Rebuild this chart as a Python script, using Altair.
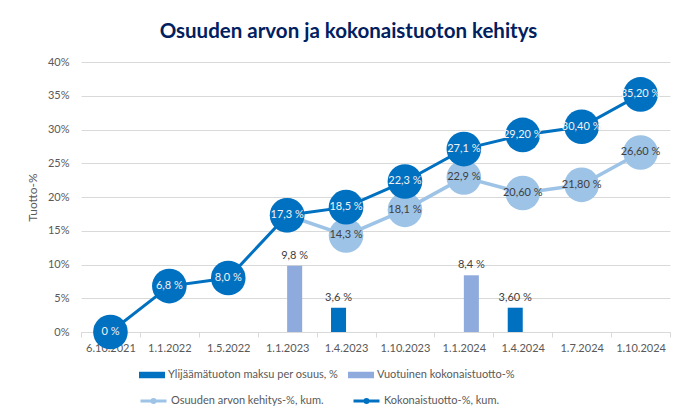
import altair as alt
import pandas as pd

categories = ["6.10.2021", "1.1.2022", "1.5.2022", "1.1.2023", "1.4.2023",
              "1.10.2023", "1.1.2024", "1.4.2024", "1.7.2024", "1.10.2024"]

total_return = [0, 6.8, 8.0, 17.3, 18.5, 22.3, 27.1, 29.2, 30.4, 35.2]
total_labels = ["0 %", "6,8 %", "8,0 %", "17,3 %", "18,5 %", "22,3 %",
                "27,1 %", "29,20 %", "30,40 %", "35,20 %"]

value_dates = ["1.1.2023", "1.4.2023", "1.10.2023", "1.1.2024",
               "1.4.2024", "1.7.2024", "1.10.2024"]
value_dev = [17.3, 14.3, 18.1, 22.9, 20.6, 21.8, 26.6]
value_labels = ["", "14,3 %", "18,1 %", "22,9 %", "20,60 %", "21,80 %", "26,60 %"]

surplus_dates = ["1.4.2023", "1.4.2024"]
surplus_vals = [3.6, 3.6]
surplus_labels = ["3,6 %", "3,60 %"]

annual_dates = ["1.1.2023", "1.1.2024"]
annual_vals = [9.8, 8.4]
annual_labels = ["9,8 %", "8,4 %"]

S_BAR1 = "Ylijäämätuoton maksu per osuus, %"
S_BAR2 = "Vuotuinen kokonaistuotto-%"
S_LINE1 = "Osuuden arvon kehitys-%, kum."
S_LINE2 = "Kokonaistuotto-%, kum."

DARK = "#0070C0"
LIGHT_BAR = "#8FAADC"
LIGHT_CIRC = "#9DC3E6"
GREY = "#595959"
FONT = "Lato"

df_bars = pd.DataFrame({
    "date": surplus_dates + annual_dates,
    "series": [S_BAR1] * len(surplus_dates) + [S_BAR2] * len(annual_dates),
    "value": surplus_vals + annual_vals,
    "label": surplus_labels + annual_labels,
})
df_total = pd.DataFrame({"date": categories, "value": total_return,
                         "label": total_labels, "series": S_LINE2})
df_value = pd.DataFrame({"date": value_dates, "value": value_dev,
                         "label": value_labels, "series": S_LINE1})

x = alt.X("date:N", sort=categories,
          scale=alt.Scale(domain=categories, paddingInner=0, paddingOuter=0),
          axis=alt.Axis(title=None, labelAngle=0, tickBand="extent",
                        labelFont=FONT, labelFontSize=11, labelColor=GREY,
                        tickColor="#D9D9D9", tickSize=5, labelPadding=5,
                        domainColor="#D9D9D9", grid=False, zindex=0))
y = alt.Y("value:Q", scale=alt.Scale(domain=[0, 40], nice=False),
          axis=alt.Axis(values=list(range(0, 41, 5)),
                        labelExpr="datum.value + '%'",
                        title="Tuotto-%", titleFont=FONT, titleFontSize=12,
                        titleFontWeight="normal", titleColor=GREY,
                        titlePadding=8,
                        labelFont=FONT, labelFontSize=11, labelColor=GREY,
                        labelPadding=12, ticks=False, domain=False,
                        gridColor="#D9D9D9", zindex=0))

bar_offset = alt.XOffset("series:N", scale=alt.Scale(domain=[S_BAR1, S_BAR2],
                                                     paddingInner=0, paddingOuter=0.96))

bars = alt.Chart(df_bars).mark_bar().encode(
    x=x, y=y, xOffset=bar_offset,
    fill=alt.Fill("series:N",
                  scale=alt.Scale(domain=[S_BAR1, S_BAR2], range=[DARK, LIGHT_BAR]),
                  legend=alt.Legend(title=None, orient="none", direction="horizontal",
                                    legendX=58, legendY=300, padding=0,
                                    symbolType="M-1,-0.25H1V0.25H-1Z", symbolSize=676,
                                    symbolStrokeWidth=0, labelLimit=400,
                                    labelFont=FONT, labelFontSize=11, labelColor=GREY,
                                    labelOffset=3, columnPadding=9)),
)
bar_text = alt.Chart(df_bars).mark_text(dy=-10, font=FONT, fontSize=11,
                                        color="#404040").encode(
    x=x, y=y, xOffset=bar_offset, text="label:N")

line_stroke = alt.Stroke("series:N",
                         scale=alt.Scale(domain=[S_LINE1, S_LINE2], range=[LIGHT_CIRC, DARK]),
                         legend=alt.Legend(title=None, orient="none", direction="horizontal",
                                           legendX=58, legendY=324, padding=0,
                                           symbolType="M-1,0H1M0.12,0A0.12,0.12 0 1,1 -0.12,0A0.12,0.12 0 1,1 0.12,0",
                                           symbolSize=676, symbolStrokeWidth=3, labelLimit=400,
                                           labelFont=FONT, labelFontSize=11, labelColor=GREY,
                                           labelOffset=3, columnPadding=23))

light_line = alt.Chart(df_value).mark_line(strokeWidth=3.5).encode(x=x, y=y, stroke=line_stroke)
light_pts = alt.Chart(df_value).mark_point(filled=True, size=1200, opacity=1,
                                           color=LIGHT_CIRC).encode(x=x, y=y)
dark_line = alt.Chart(df_total).mark_line(strokeWidth=3).encode(x=x, y=y, stroke=line_stroke)
dark_pts = alt.Chart(df_total).mark_point(filled=True, size=1200, opacity=1,
                                          color=DARK).encode(x=x, y=y)
light_text = alt.Chart(df_value).mark_text(font=FONT, fontSize=11, color="#404040").encode(
    x=x, y=y, text="label:N")
dark_text = alt.Chart(df_total).mark_text(font=FONT, fontSize=11, color="#F2F2F2").encode(
    x=x, y=y, text="label:N")

chart = alt.layer(bars, bar_text, light_line, light_pts, dark_line, dark_pts,
                  light_text, dark_text).properties(
    width=589, height=270,
    autosize=alt.AutoSizeParams(type="none"),
    padding={"left": 81, "top": 62, "right": 8, "bottom": 77},
    title=alt.TitleParams("Osuuden arvon ja kokonaistuoton kehitys", font=FONT,
                          fontSize=20.5, fontWeight="bold", color="#002060",
                          anchor="middle", frame="group", dx=-27, dy=25, offset=23,
                          baseline="alphabetic"),
    background="white",
).configure_view(stroke=None)

chart.save("out.html", embed_options={"renderer": "svg", "actions": False})
